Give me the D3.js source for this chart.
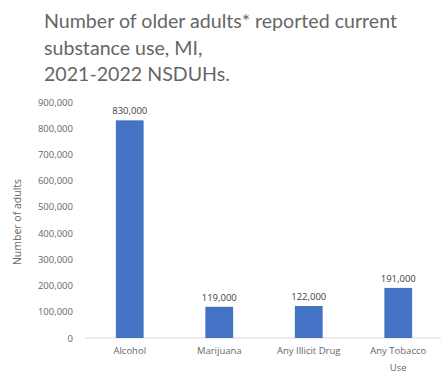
<!DOCTYPE html>
<html>
<head>
<meta charset="utf-8">
<script src="https://cdn.jsdelivr.net/npm/d3@7"></script>
<style>
  body { margin: 0; background: #fff; }
  text { font-family: "Open Sans", "Noto Sans", sans-serif; }
</style>
</head>
<body>
<div id="chart"></div>
<script>
const categories = ["Alcohol", "Marijuana", "Any Illicit Drug", "Any Tobacco Use"];
const values = [830000, 119000, 122000, 191000];
const yTicks = [0, 100000, 200000, 300000, 400000, 500000, 600000, 700000, 800000, 900000];
const titleLines = ["Number of older adults* reported current", "substance use, MI,", "2021-2022 NSDUHs."];

const width = 441, height = 378;
const svg = d3.select("#chart")
              .append("svg")
              .attr("width", width)
              .attr("height", height);

// title
svg.append("g")
   .selectAll("text")
   .data(titleLines)
   .enter()
   .append("text")
   .attr("x", 44)
   .attr("y", (d, i) => 28 + i * 26.5)
   .attr("fill", "#666666")
   .style("font-family", "Lato, sans-serif")
   .style("font-size", "19.6px")
   .text(d => d);

const x = d3.scaleBand()
            .domain(categories)
            .range([85, 443])
            .paddingInner(0.69)
            .paddingOuter(0.345);
const y = d3.scaleLinear()
            .domain([0, 900000])
            .range([338, 102]);

// baseline
svg.append("line")
   .attr("x1", 85).attr("x2", 441)
   .attr("y1", y(0)).attr("y2", y(0))
   .attr("stroke", "#d9d9d9");

// y axis labels
const yAxis = d3.axisLeft(y)
                .tickValues(yTicks)
                .tickSize(0)
                .tickPadding(0)
                .tickFormat(d3.format(","));
svg.append("g")
   .attr("transform", "translate(73,0)")
   .call(yAxis)
   .call(g => g.select(".domain").remove())
   .call(g => g.selectAll("text")
               .attr("fill", "#666666")
               .style("font-size", "9.5px")
               .style("font-family", "'Open Sans', sans-serif"));

svg.append("text")
   .attr("transform", "translate(21," + 222 + ") rotate(-90)")
   .attr("text-anchor", "middle")
   .attr("fill", "#666666")
   .style("font-size", "10.5px")
   .text("Number of adults");

// bars
svg.selectAll(".bar")
   .data(values)
   .enter()
   .append("rect")
   .attr("class", "bar")
   .attr("x", (d, i) => x(categories[i]))
   .attr("width", x.bandwidth())
   .attr("y", d => y(d))
   .attr("height", d => y(0) - y(d))
   .attr("fill", "#4472C4");

// value labels
svg.selectAll(".val")
   .data(values)
   .enter()
   .append("text")
   .attr("class", "val")
   .attr("x", (d, i) => x(categories[i]) + x.bandwidth() / 2)
   .attr("y", d => y(d) - 6)
   .attr("text-anchor", "middle")
   .attr("fill", "#404040")
   .style("font-size", "9.5px")
   .text(d => d3.format(",")(d));

// category labels
const catLabels = svg.selectAll(".cat")
   .data(categories)
   .enter()
   .append("text")
   .attr("class", "cat")
   .attr("x", d => x(d) + x.bandwidth() / 2)
   .attr("y", 354)
   .attr("text-anchor", "middle")
   .attr("fill", "#666666")
   .style("font-size", "9.5px");
catLabels.each(function(d) {
  const parts = d === "Any Tobacco Use" ? ["Any Tobacco", "Use"] : [d];
  d3.select(this).selectAll("tspan")
    .data(parts)
    .enter()
    .append("tspan")
    .attr("x", x(d) + x.bandwidth() / 2)
    .attr("dy", (p, i) => i === 0 ? 0 : 17)
    .text(p => p);
});
</script>
</body>
</html>
